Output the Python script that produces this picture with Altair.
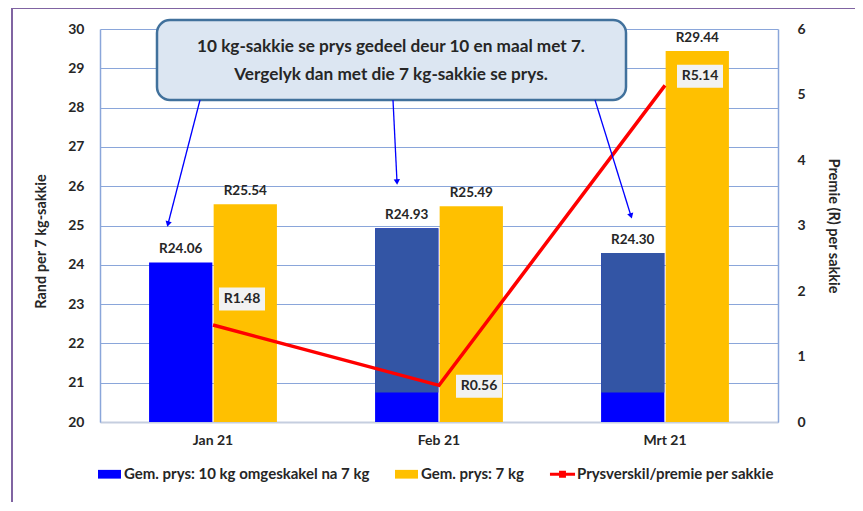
import altair as alt
import pandas as pd

# ---------------- data ----------------
months = ["Jan 21", "Feb 21", "Mrt 21"]
price_10kg_as_7kg = [24.06, 24.93, 24.30]
price_7kg = [25.54, 25.49, 29.44]
premium = [1.48, 0.56, 5.14]
bright_part_top = [24.06, 20.75, 20.75]   # upper edge of the bright-blue part of each blue bar

s_blue = "Gem. prys: 10 kg omgeskakel na 7 kg"
s_yellow = "Gem. prys: 7 kg"
s_line = "Prysverskil/premie per sakkie"

left_title = "Rand per 7 kg-sakkie"
right_title = "Premie (R) per sakkie"
left_ticks = list(range(20, 31))
right_ticks = list(range(0, 7))

callout_lines = [
    "10 kg-sakkie se prys gedeel deur 10 en maal met 7.",
    "Vergelyk dan met die 7 kg-sakkie se prys.",
]

# ---------------- tables ----------------
bars_df = pd.DataFrame(
    [{"month": m, "series": s_blue, "value": v, "label": f"R{v:.2f}"} for m, v in zip(months, price_10kg_as_7kg)]
    + [{"month": m, "series": s_yellow, "value": v, "label": f"R{v:.2f}"} for m, v in zip(months, price_7kg)]
)
dark_df = pd.DataFrame({"month": months, "series": s_blue, "low": bright_part_top, "high": price_10kg_as_7kg})
line_df = pd.DataFrame({"month": months, "premium": premium, "label": [f"R{p:.2f}" for p in premium]})
one = pd.DataFrame({"k": [0]})

# ---------------- styling ----------------
FONT = "Lato"
TXT = "#262626"
GRID = "#8AA6DA"
BLUE, YELLOW, DARK, RED = "#0000FF", "#FFC000", "#3355A5", "#FF0000"
W, H = 678, 393
HALF_BAND = W / len(months) / 2

x_enc = alt.X(
    "month:N", sort=months,
    scale=alt.Scale(paddingInner=0, paddingOuter=0),
    axis=alt.Axis(title=None, labelAngle=0, labelFont=FONT, labelFontWeight="bold", labelFontSize=14,
                  labelColor=TXT, labelPadding=11, ticks=False, domainColor="#C5CEDF", domainWidth=2),
)
xoff = alt.XOffset("series:N", sort=[s_blue, s_yellow],
                   scale=alt.Scale(domain=[s_blue, s_yellow], paddingInner=0.02, paddingOuter=0.76))

left_axis = alt.Axis(values=left_ticks, title=left_title, grid=True, gridColor=GRID, gridWidth=1,
                     ticks=False, domainColor=GRID, domainWidth=1.5, labelPadding=16,
                     labelFont=FONT, labelFontSize=14, labelFontWeight="bold", labelColor=TXT,
                     titleFont=FONT, titleFontSize=14.5, titleFontWeight="bold", titleColor=TXT,
                     titlePadding=19, titleY=212)
left_scale = alt.Scale(domain=[20, 30], nice=False, zero=False)

shape_expr = ("datum.value == '" + s_line + "' ? "
              "'M-1.09,-0.13H-0.3V-0.3H0.3V-0.13H1.09V0.13H0.3V0.3H-0.3V0.13H-1.09Z' : "
              "'M-1,-0.38H1V0.38H-1Z'")

bars = alt.Chart(bars_df).mark_bar().encode(
    x=x_enc, xOffset=xoff,
    y=alt.Y("value:Q", scale=left_scale, axis=left_axis),
    y2=alt.datum(20),
    color=alt.Color("series:N",
                    scale=alt.Scale(domain=[s_blue, s_yellow, s_line], range=[BLUE, YELLOW, RED]),
                    legend=alt.Legend(
                        title=None, orient="none", legendX=-2, legendY=433.5, direction="horizontal",
                        columnPadding=25, labelOffset=3, padding=0, symbolSize=529, symbolStrokeWidth=0,
                        labelFont=FONT, labelFontSize=15, labelFontWeight="bold", labelColor=TXT, labelLimit=0,
                        symbolType={"expr": shape_expr},
                    )),
)
dark = alt.Chart(dark_df).mark_bar(color=DARK).encode(
    x=x_enc, xOffset=xoff,
    y=alt.Y("low:Q", scale=left_scale, axis=left_axis),
    y2="high:Q",
)
bar_labels = alt.Chart(bars_df).mark_text(
    baseline="bottom", dy=-6, font=FONT, fontWeight="bold", fontSize=13.5, color=TXT
).encode(x=x_enc, xOffset=xoff, y=alt.Y("value:Q", scale=left_scale, axis=left_axis), text="label:N")

left = alt.layer(bars, dark, bar_labels)

right_axis = alt.Axis(orient="right", values=right_ticks, title=right_title, grid=False, ticks=False,
                      domainColor=GRID, domainWidth=1.5, labelPadding=19,
                      labelFont=FONT, labelFontSize=14, labelFontWeight="bold", labelColor=TXT,
                      titleFont=FONT, titleFontSize=14.5, titleFontWeight="bold", titleColor=TXT, titlePadding=20)
right_scale = alt.Scale(domain=[0, 6], nice=False)
y_r = alt.Y("premium:Q", scale=right_scale, axis=right_axis)

line = alt.Chart(line_df).mark_line(color=RED, strokeWidth=3.5).encode(x=x_enc, y=y_r)

label_offsets = {"Jan 21": (29, -26), "Feb 21": (40, 1), "Mrt 21": (35, -9)}
right_layers = [line]
for m, (dx, dy) in label_offsets.items():
    base = alt.Chart(line_df).transform_filter(alt.datum.month == m)
    right_layers.append(
        base.mark_point(shape="M-1,-0.5H1V0.5H-1Z", filled=True, color="#F2F2F2", opacity=1,
                        size=46 * 46, strokeWidth=0)
        .encode(x=x_enc, y=y_r, xOffset=alt.value(HALF_BAND + dx), yOffset=alt.value(dy))
    )
    right_layers.append(
        base.mark_text(dx=dx, dy=dy, font=FONT, fontWeight="bold", fontSize=14, color=TXT)
        .encode(x=x_enc, y=y_r, text="label:N")
    )
right = alt.layer(*right_layers)

# ---------------- annotations ----------------
border = alt.Chart(one).mark_rect(fill="transparent", stroke="#8064A2", strokeWidth=2).encode(
    x=alt.value(-88), x2=alt.value(770), y=alt.value(-21), y2=alt.value(495))

callout = alt.Chart(one).mark_rect(fill="#DCE6F2", stroke="#41719C", strokeWidth=2.5, cornerRadius=13).encode(
    x=alt.value(57), x2=alt.value(526), y=alt.value(-9), y2=alt.value(71))
callout_text = [
    alt.Chart(one).mark_text(text=t, font=FONT, fontWeight="bold", fontSize=17.2, color=TXT,
                             align="center", baseline="middle").encode(x=alt.value(291), y=alt.value(yy))
    for t, yy in zip(callout_lines, [18, 46])
]
arrows = []
for (x1, y1, x2, y2, ang) in [(100, 71, 68, 195, 14.5), (293, 71, 297, 153, 357), (495, 71, 531, 187, 343)]:
    arrows.append(alt.Chart(one).mark_rule(color="#0000FF", strokeWidth=1.3).encode(
        x=alt.value(x1), y=alt.value(y1), x2=alt.value(x2), y2=alt.value(y2)))
    arrows.append(alt.Chart(one).mark_point(shape="triangle-down", filled=True, color="#0000FF", size=40,
                                            opacity=1, angle=ang).encode(x=alt.value(x2), y=alt.value(y2)))

chart = alt.layer(border, left, right, callout, *callout_text, *arrows).resolve_scale(
    y="independent"
).properties(
    width=W, height=H,
    autosize=alt.AutoSizeParams(type="none"),
    padding={"left": 92, "top": 21, "right": 77, "bottom": 80},
).configure(font=FONT).configure_view(stroke=None)

chart.save("out.html", embed_options={"renderer": "svg", "actions": False})
